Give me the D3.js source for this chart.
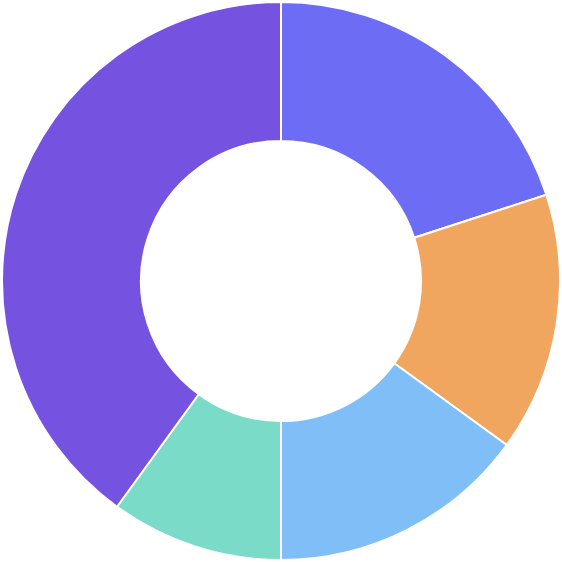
<!DOCTYPE html>
<html>
<head>
<meta charset="utf-8">
<script src="https://cdn.jsdelivr.net/npm/d3@7"></script>
<style>
  html, body { margin: 0; padding: 0; background: #fff; }
  svg { display: block; }
</style>
</head>
<body>
<svg id="chart"></svg>
<script>
// chart values
var categories = ['A', 'B', 'C', 'D', 'E'];
var values = [20, 15, 15, 10, 40];
var colors = ['#6C6CF5', '#F0A65F', '#80BEF8', '#7BDBC9', '#7652E0'];

var width = 562, height = 562;
var outerR = 279, innerR = 140;

var svg = d3.select('#chart').attr('width', width).attr('height', height);
var g = svg.append('g').attr('transform', 'translate(' + [281, 281] + ')');

var pie = d3.pie().sort(null).value(function(d) { return d; });
var arc = d3.arc().innerRadius(innerR).outerRadius(outerR);
var color = d3.scaleOrdinal().domain(categories).range(colors);

g.selectAll('path')
  .data(pie(values))
  .enter()
  .append('path')
  .attr('d', arc)
  .style('fill', function(d, i) { return color(categories[i]); })
  .style('stroke', '#fff')
  .style('stroke-width', 2);
</script>
</body>
</html>
